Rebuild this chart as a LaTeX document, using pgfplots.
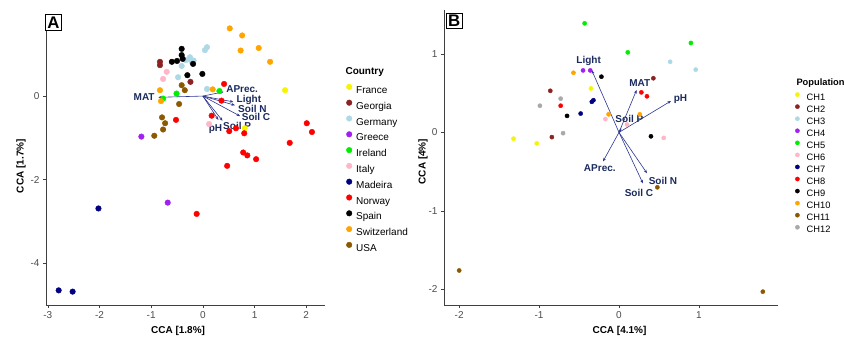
\documentclass[border=0pt]{standalone}
\usepackage{pgfplots}
\pgfplotsset{compat=1.18}
\usetikzlibrary{arrows.meta}
\usepackage{fontspec}
\setmainfont{Liberation Sans}
\definecolor{cFr}{HTML}{F5F500}
\definecolor{cGe}{HTML}{8B2323}
\definecolor{cDe}{HTML}{ADD8E6}
\definecolor{cGr}{HTML}{A020F0}
\definecolor{cIe}{HTML}{00EE00}
\definecolor{cIt}{HTML}{FFB6C8}
\definecolor{cMa}{HTML}{000080}
\definecolor{cNo}{HTML}{FF0000}
\definecolor{cSp}{HTML}{000000}
\definecolor{cCh}{HTML}{FFA500}
\definecolor{cUs}{HTML}{8B5A00}
\definecolor{cGy}{HTML}{A9A9A9}
\definecolor{arr}{HTML}{2A3590}
\definecolor{lab}{HTML}{1B2A5E}
\tikzset{labA/.style={text=lab, font=\bfseries\fontsize{10}{12}\selectfont, inner sep=0pt}}
\pgfplotsset{
  base/.style={scale only axis, axis lines*=left,
    x axis line style={-}, y axis line style={-},
    axis line style={draw=black!75, line width=0.6pt},
    tick align=outside, major tick length=3pt,
    tick style={draw=black!75, line width=0.6pt},
    ticklabel style={font=\fontsize{10}{12}\selectfont, text=black!70},
    /pgf/number format/assume math mode=true,
    label style={font=\bfseries\fontsize{10}{12}\selectfont},
    clip=false,
    legend cell align=left,
  },
  arrA/.style={arr, line width=0.6pt, -{Stealth[length=3.5pt,width=2.8pt]}, forget plot},
  pA/.style={only marks, mark=*, mark size=2.8pt, mark options={draw=#1, fill=#1}},
  pB/.style={only marks, mark=*, mark size=2.1pt, mark options={draw=#1, fill=#1}},
}
\begin{document}
\begin{tikzpicture}
\useasboundingbox (0pt,0pt) rectangle (845pt,340pt);
% ---------------- Panel A ----------------
\begin{scope}[shift={(46pt,35pt)}]
\begin{axis}[base, at={(0pt,0pt)}, anchor=south west, width=278.6pt, height=290pt,
  xmin=-3.035, xmax=2.355, ymin=-5.0, ymax=1.94,
  xtick={-3,-2,-1,0,1,2}, ytick={-4,-2,0},
  xlabel={CCA [1.8\%]}, ylabel={CCA [1.7\%]},
  x label style={at={(axis description cs:0.474,-0.0897)}, anchor=center},
  y label style={at={(axis description cs:-0.0897,0.479)}, anchor=center},
  legend image code/.code={\draw[#1, mark repeat=1] plot coordinates {(0pt,3.5pt)}; \path[draw=none, fill=none] (-2.8pt,0.5pt) rectangle (2.8pt,6.5pt);},
  legend style={draw=none, fill=none, at={(axis description cs:1.0775,0.7631)}, anchor=north west,
    font=\fontsize{10}{12}\selectfont, inner sep=0pt, row sep=4.3pt,
    nodes={inner sep=0pt, text height=8pt, text depth=2pt},
    /tikz/every odd column/.append style={column sep=4.2pt}},
]
\addplot[pA=cFr] coordinates {(1.59,0.14) (0.81,-0.77)};
\addlegendentry{France}
\addplot[pA=cGe] coordinates {(-0.83,0.82) (-0.83,0.74) (-0.24,0.34)};
\addlegendentry{Georgia}
\addplot[pA=cDe] coordinates {(0.08,1.17) (0.04,1.10) (-0.25,0.93) (-0.21,0.81) (-0.33,0.86) (-0.41,0.72) (-0.48,0.45) (0.08,0.17) (-0.26,0.88) (-0.18,0.85)};
\addlegendentry{Germany}
\addplot[pA=cGr] coordinates {(-1.19,-0.97) (-0.68,-2.55)};
\addlegendentry{Greece}
\addplot[pA=cIe] coordinates {(-0.77,-0.06) (-0.51,0.06) (0.32,0.12)};
\addlegendentry{Ireland}
\addplot[pA=cIt] coordinates {(-0.70,0.58) (-0.77,0.41) (0.12,-0.67)};
\addlegendentry{Italy}
\addplot[pA=cMa] coordinates {(-2.02,-2.69) (-2.79,-4.65) (-2.52,-4.68)};
\addlegendentry{Madeira}
\addplot[pA=cNo] coordinates {(0.41,0.29) (0.36,-0.11) (0.17,-0.47) (-0.52,-0.57) (0.51,-0.84) (0.64,-0.77) (0.80,-0.89) (0.78,-1.35) (0.86,-1.42) (1.03,-1.51) (0.47,-1.67) (2.01,-0.65) (2.11,-0.86) (1.68,-1.12) (-0.12,-2.82)};
\addlegendentry{Norway}
\addplot[pA=cSp] coordinates {(-0.41,1.13) (-0.41,0.98) (-0.60,0.82) (-0.50,0.84) (-0.39,0.89) (-0.19,0.77) (-0.30,0.50) (-0.01,0.53)};
\addlegendentry{Spain}
\addplot[pA=cCh] coordinates {(0.52,1.62) (0.76,1.45) (0.73,1.09) (1.08,1.15) (1.30,0.82) (-0.83,0.14) (-0.81,-0.12) (0.19,0.16)};
\addlegendentry{Switzerland}
\addplot[pA=cUs] coordinates {(-0.41,0.26) (-0.35,0.14) (-0.46,-0.19) (-0.79,-0.51) (-0.73,-0.65) (-0.77,-0.80) (-0.94,-0.95)};
\addlegendentry{USA}
% arrows
\addplot[arrA] coordinates {(0,0) (-0.86,-0.03)};
\addplot[arrA] coordinates {(0,0) (0.40,0.10)};
\addplot[arrA] coordinates {(0,0) (0.59,-0.14)};
\addplot[arrA] coordinates {(0,0) (0.62,-0.22)};
\addplot[arrA] coordinates {(0,0) (0.72,-0.48)};
\addplot[arrA] coordinates {(0,0) (0.38,-0.59)};
\addplot[arrA] coordinates {(0,0) (0.30,-0.57)};
\node[labA, anchor=east] at (axis cs:-0.93,-0.03) {MAT};
\node[labA, anchor=west] at (axis cs:0.45,0.16) {APrec.};
\node[labA, anchor=west] at (axis cs:0.65,-0.10) {Light};
\node[labA, anchor=west] at (axis cs:0.68,-0.31) {Soil N};
\node[labA, anchor=west] at (axis cs:0.75,-0.51) {Soil C};
\node[labA, anchor=west] at (axis cs:0.39,-0.71) {Soil P};
\node[labA, anchor=west] at (axis cs:0.11,-0.80) {pH};
\end{axis}
\end{scope}
\node[font=\bfseries\fontsize{10}{12}\selectfont, anchor=west] at (342pt,268.3pt) {Country};
\node[draw=black, line width=1.1pt, fill=white, inner sep=1.8pt, text height=12pt, text depth=0pt,
  font=\bfseries\fontsize{16.8}{18}\selectfont] at (53.5pt,317.5pt) {A};
% ---------------- Panel B ----------------
\begin{scope}[shift={(444pt,35pt)}]
\begin{axis}[base, at={(0pt,0pt)}, anchor=south west, width=334pt, height=295pt,
  xmin=-2.19, xmax=1.99, ymin=-2.2, ymax=1.56,
  xtick={-2,-1,0,1}, ytick={-2,-1,0,1},
  xlabel={CCA [4.1\%]}, ylabel={CCA [4\%]},
  x label style={at={(axis description cs:0.5254,-0.0881)}, anchor=center},
  y label style={at={(axis description cs:-0.0629,0.486)}, anchor=center},
  legend image code/.code={\draw[#1, mark repeat=1] plot coordinates {(0pt,3.2pt)}; \path[draw=none, fill=none] (-2.1pt,1pt) rectangle (2.1pt,5.4pt);},
  legend style={draw=none, fill=none, at={(axis description cs:1.0512,0.7214)}, anchor=north west,
    font=\fontsize{9.3}{11}\selectfont, inner sep=0pt, row sep=2.16pt,
    nodes={inner sep=0pt, text height=7pt, text depth=2pt},
    /tikz/every odd column/.append style={column sep=7.2pt}},
]
\addplot[pB=cFr] coordinates {(-0.35,0.56) (-1.32,-0.08) (-1.03,-0.14)};
\addlegendentry{CH1}
\addplot[pB=cGe] coordinates {(0.43,0.69) (-0.86,0.53) (-0.84,-0.06)};
\addlegendentry{CH2}
\addplot[pB=cDe] coordinates {(0.64,0.90) (0.96,0.80)};
\addlegendentry{CH3}
\addplot[pB=cGr] coordinates {(-0.45,0.79) (-0.36,0.79)};
\addlegendentry{CH4}
\addplot[pB=cIe] coordinates {(-0.43,1.39) (0.11,1.02) (0.90,1.14)};
\addlegendentry{CH5}
\addplot[pB=cIt] coordinates {(-0.17,0.17) (0.10,0.10) (0.56,-0.07)};
\addlegendentry{CH6}
\addplot[pB=cMa] coordinates {(-0.34,0.39) (-0.32,0.41) (-0.48,0.24)};
\addlegendentry{CH7}
\addplot[pB=cNo] coordinates {(0.28,0.51) (0.35,0.46) (-0.73,0.34)};
\addlegendentry{CH8}
\addplot[pB=cSp] coordinates {(-0.22,0.71) (-0.65,0.21) (0.40,-0.05)};
\addlegendentry{CH9}
\addplot[pB=cCh] coordinates {(-0.57,0.76) (-0.13,0.23) (0.26,0.23)};
\addlegendentry{CH10}
\addplot[pB=cUs] coordinates {(0.48,-0.70) (-2.00,-1.76) (1.80,-2.03)};
\addlegendentry{CH11}
\addplot[pB=cGy] coordinates {(-0.73,0.43) (-0.99,0.34) (-0.70,-0.01)};
\addlegendentry{CH12}
% arrows
\addplot[arrA] coordinates {(0,0) (-0.34,0.79)};
\addplot[arrA] coordinates {(0,0) (0.22,0.54)};
\addplot[arrA] coordinates {(0,0) (0.65,0.40)};
\addplot[arrA] coordinates {(0,0) (0.03,0.05)};
\addplot[arrA] coordinates {(0,0) (-0.20,-0.37)};
\addplot[arrA] coordinates {(0,0) (0.35,-0.52)};
\addplot[arrA] coordinates {(0,0) (0.30,-0.65)};
\node[labA] at (axis cs:-0.38,0.91) {Light};
\node[labA] at (axis cs:0.26,0.63) {MAT};
\node[labA] at (axis cs:0.77,0.43) {pH};
\node[labA] at (axis cs:0.13,0.17) {Soil P};
\node[labA] at (axis cs:-0.24,-0.46) {APrec.};
\node[labA] at (axis cs:0.55,-0.62) {Soil N};
\node[labA] at (axis cs:0.25,-0.77) {Soil C};
\end{axis}
\end{scope}
\node[font=\bfseries\fontsize{9.3}{11}\selectfont, anchor=west] at (793pt,256.7pt) {Population};
\node[draw=black, line width=1.1pt, fill=white, inner sep=1.8pt, text height=12pt, text depth=0pt,
  font=\bfseries\fontsize{16.8}{18}\selectfont] at (454.2pt,319pt) {B};
\end{tikzpicture}
\end{document}
